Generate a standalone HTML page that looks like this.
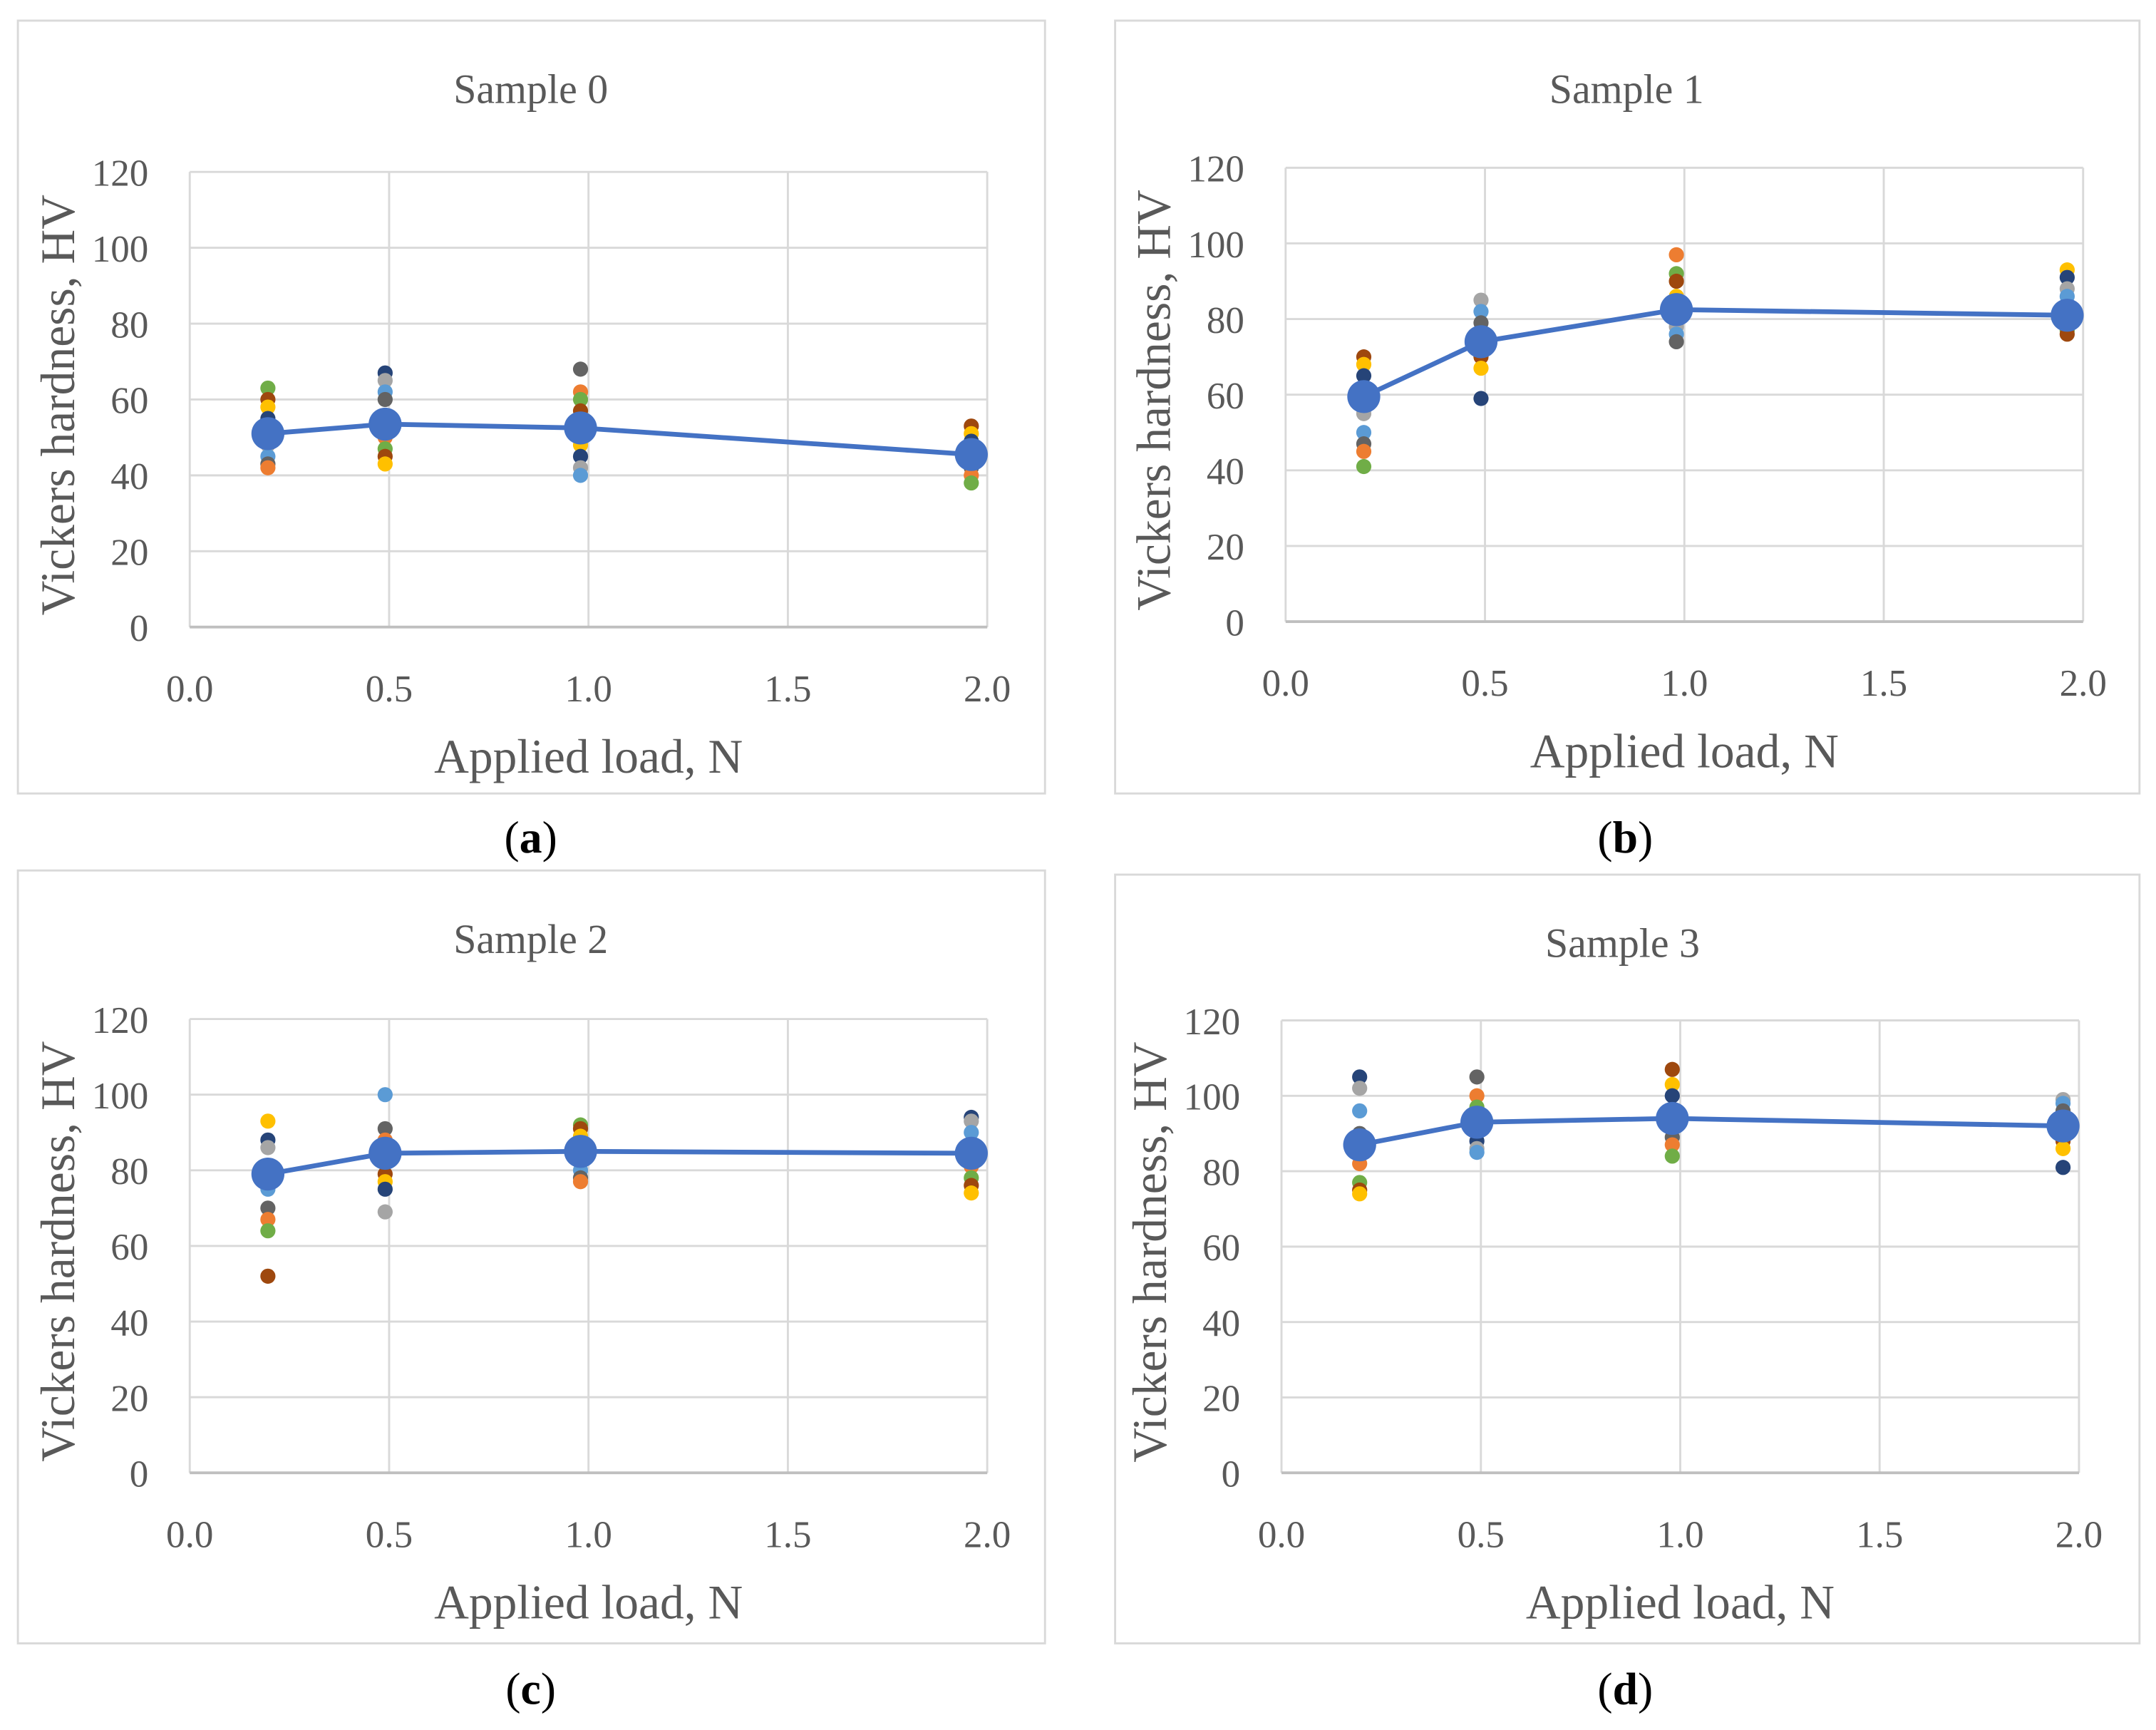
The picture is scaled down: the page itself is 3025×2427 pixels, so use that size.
<!DOCTYPE html>
<html><head><meta charset="utf-8"><style>
html,body{margin:0;padding:0;background:#fff;}
svg{display:block;}
text{font-family:"Liberation Serif",serif;fill:#595959;}
</style></head><body>
<svg id="fig" width="3025" height="2427" viewBox="0 0 1568 1258" preserveAspectRatio="none" xmlns="http://www.w3.org/2000/svg"></svg>
<script>
const xTicks = [0.0, 0.5, 1.0, 1.5, 2.0];
const yTicks = [0, 20, 40, 60, 80, 100, 120];
const loads = [0.196, 0.49, 0.98, 1.96];
const titles = ["Sample 0", "Sample 1", "Sample 2", "Sample 3"];
const captions = ["a", "b", "c", "d"];
const meanA = [51, 53.5, 52.5, 45.5];
const meanB = [59.5, 74, 82.5, 81];
const meanC = [79, 84.5, 85, 84.5];
const meanD = [87, 93, 94, 92];
const ptsA = [[63,60,58,55,48,45,43,42],[67,65,62,60,50,47,45,43],[68,62,60,57,48,45,42,40],[53,51,49,47,44,42,40,38]];
const ptsB = [[70,68,65,55,50,47,45,41],[85,82,79,76,72,70,67,59],[97,92,90,86,80,78,76,74],[93,91,88,86,82,80,77,76]];
const ptsC = [[93,88,86,75,70,67,64,52],[100,91,88,82,79,77,75,69],[92,91,89,86,83,80,78,77],[94,93,90,85,81,78,76,74]];
const ptsD = [[105,102,96,90,82,77,75,74],[105,100,97,93,90,88,86,85],[107,103,100,96,92,89,87,84],[99,98,96,93,90,88,86,81]];
const ptColors = ['#70AD47','#9E480E','#FFC000','#264478','#A5A5A5','#5B9BD5','#636363','#ED7D31'];

const NS = "http://www.w3.org/2000/svg";
const svg = document.getElementById('fig');
function mk(tag, attrs, parent){const e=document.createElementNS(NS,tag);for(const k in attrs)e.setAttribute(k,attrs[k]);(parent||svg).appendChild(e);return e;}

const layouts = [
 {bx:13,by:15,bw:747,bh:562,px0:138,px1:718,py0:456,py1:125,ty:65,cy:609,cx:386},
 {bx:811,by:15,bw:745,bh:562,px0:935,px1:1515,py0:452,py1:122,ty:65,cy:609,cx:1182},
 {bx:13,by:633,bw:747,bh:562,px0:138,px1:718,py0:1071,py1:741,ty:683,cy:1228,cx:386},
 {bx:811,by:636,bw:745,bh:559,px0:932,px1:1512,py0:1071,py1:742,ty:686,cy:1228,cx:1182}
];
const means = [meanA, meanB, meanC, meanD];
const pts = [ptsA, ptsB, ptsC, ptsD];

layouts.forEach((L, i) => {
  const g = mk('g', {});
  
  
  const X = v => L.px0 + (v / 2) * (L.px1 - L.px0);
  const Y = v => L.py0 - (v / 120) * (L.py0 - L.py1);
  const frame = mk('rect', {x:L.bx, y:L.by, width:L.bw, height:L.bh, fill:'#fff', stroke:'#d9d9d9', 'stroke-width':1.5}, g);
  
  
  const t = mk('text', {x:(L.px0+L.px1)/2-42, y:L.ty+10, 'font-size':30, 'text-anchor':'middle'}, g);
  t.textContent = titles[i];
  
  
  yTicks.forEach(v => {
    const ln = mk('line', {x1:L.px0, x2:L.px1, y1:Y(v), y2:Y(v), stroke:'#d9d9d9', 'stroke-width':1.5}, g);
    
    
    const tx = mk('text', {x:L.px0-30, y:Y(v)+10, 'font-size':27.5, 'text-anchor':'end'}, g);
    tx.textContent = v;
    
    
  });
  xTicks.forEach(v => {
    const ln = mk('line', {x1:X(v), x2:X(v), y1:L.py1, y2:L.py0, stroke:'#d9d9d9', 'stroke-width':1.5}, g);
    
    
    const tx = mk('text', {x:X(v), y:L.py0+54, 'font-size':27.5, 'text-anchor':'middle'}, g);
    tx.textContent = v.toFixed(1);
    
    
  });
  const xa = mk('line', {x1:L.px0, x2:L.px1, y1:L.py0, y2:L.py0, stroke:'#bfbfbf', 'stroke-width':2}, g);
  
  
  const xt = mk('text', {x:(L.px0+L.px1)/2 - 0, y:L.py0+106, 'font-size':35, 'text-anchor':'middle'}, g);
  xt.textContent = 'Applied load, N';
  
  
  const ycx = L.px0 - 84, ycy = (L.py0 + L.py1) / 2 + 4;
  const yt = mk('text', {x:ycx, y:ycy, 'font-size':35, 'text-anchor':'middle', transform:`rotate(-90 ${ycx} ${ycy})`}, g);
  yt.textContent = 'Vickers hardness, HV';
  
  
  pts[i].forEach((col, j) => {
    col.forEach((v, k) => {
      const c = mk('circle', {cx:X(loads[j]), cy:Y(v), r:5.5, fill:ptColors[(k + j*3 + i) % ptColors.length]}, g);
      
      
    });
  });
  const d = means[i].map((v, j) => (j ? 'L' : 'M') + X(loads[j]) + ' ' + Y(v)).join(' ');
  const path = mk('path', {d:d, fill:'none', stroke:'#4472C4', 'stroke-width':3.5}, g);
  
  
  means[i].forEach((v, j) => {
    const c = mk('circle', {cx:X(loads[j]), cy:Y(v), r:12, fill:'#4472C4'}, g);
    
    
  });
  const cap = mk('text', {x:L.cx, y:L.cy+11, 'font-size':33, 'text-anchor':'middle', style:'fill:#000'}, g);
  cap.innerHTML = '(<tspan font-weight="bold" style="fill:#000">' + captions[i] + '</tspan>)';
  
  
});
</script>
</body></html>
